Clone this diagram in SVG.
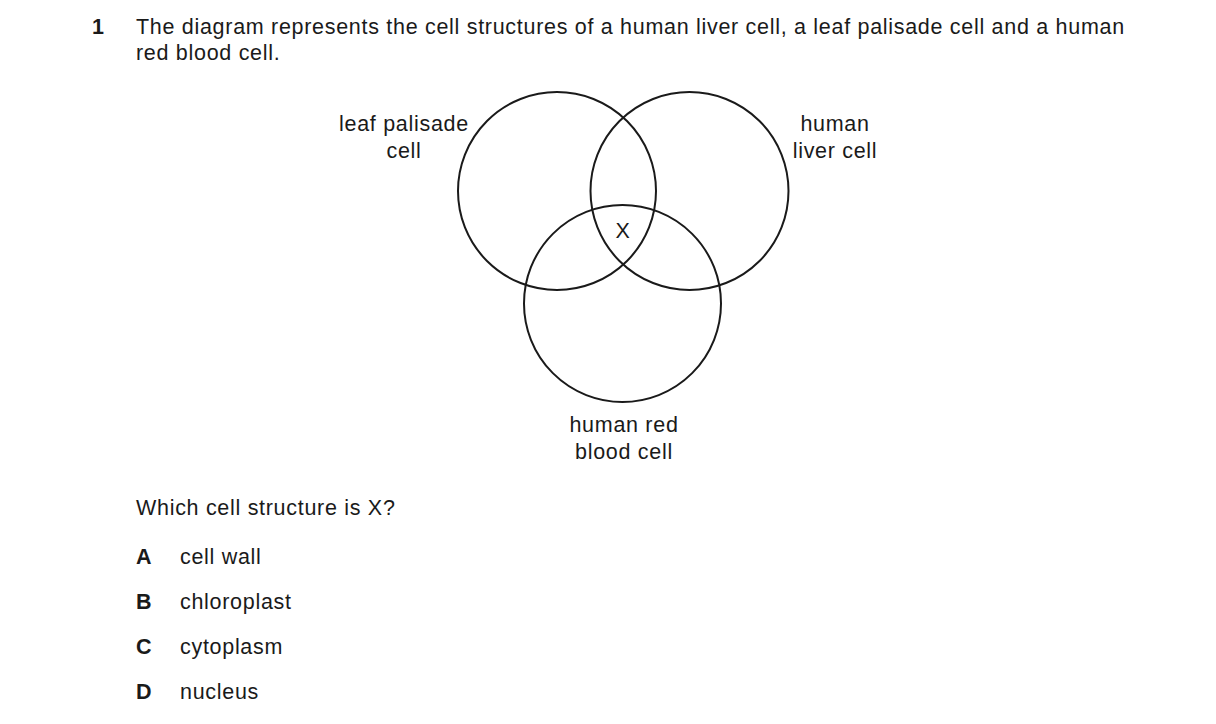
<svg xmlns="http://www.w3.org/2000/svg" width="1216" height="724" viewBox="0 0 1216 724">
<style>
text{font-family:"Liberation Sans",Arial,sans-serif;font-size:21.5px;letter-spacing:0.7px;fill:#1a1a1a}
.b{font-weight:bold}
.c{fill:none;stroke:#1a1a1a;stroke-width:2}
.m{text-anchor:middle}
</style>
<rect width="1216" height="724" fill="#fff"/>
<text class="b" x="92" y="34">1</text>
<text x="136" y="34">The diagram represents the cell structures of a human liver cell, a leaf palisade cell and a human</text>
<text x="136" y="60">red blood cell.</text>
<g id="leaf"><circle class="c" cx="557" cy="191" r="99"/><text class="m" x="404" y="131">leaf palisade</text><text class="m" x="404" y="158">cell</text></g>
<g id="liver"><circle class="c" cx="689.5" cy="191" r="99"/><text class="m" x="835" y="131">human</text><text class="m" x="835" y="158">liver cell</text></g>
<g id="rbc"><circle class="c" cx="622.5" cy="303.5" r="98.5"/><text class="m" x="624" y="432">human red</text><text class="m" x="624" y="459">blood cell</text></g>
<g id="x"><text class="m" x="623" y="238">X</text></g>
<g id="connectors"></g>
<text x="136" y="515">Which cell structure is X?</text>
<text class="b" x="136" y="564">A</text><text x="180" y="564">cell wall</text>
<text class="b" x="136" y="609">B</text><text x="180" y="609">chloroplast</text>
<text class="b" x="136" y="654">C</text><text x="180" y="654">cytoplasm</text>
<text class="b" x="136" y="699">D</text><text x="180" y="699">nucleus</text>
</svg>
